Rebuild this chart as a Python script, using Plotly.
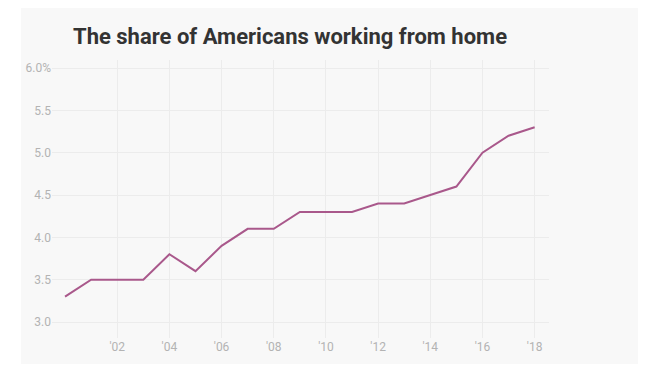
import plotly.graph_objects as go

years = list(range(2000, 2019))
share = [3.3, 3.5, 3.5, 3.5, 3.8, 3.6, 3.9, 4.1, 4.1, 4.3, 4.3, 4.3, 4.4, 4.4, 4.5, 4.6, 5.0, 5.2, 5.3]
x_ticks = [2002, 2004, 2006, 2008, 2010, 2012, 2014, 2016, 2018]
x_labels = ["'02", "'04", "'06", "'08", "'10", "'12", "'14", "'16", "'18"]
y_ticks = [3.0, 3.5, 4.0, 4.5, 5.0, 5.5, 6.0]
y_labels = ["3.0", "3.5", "4.0", "4.5", "5.0", "5.5", "6.0%"]

title = "The share of Americans working from home"

# page has an 8px body margin, so figure coords = page coords - 8
W, H = 638, 361
L, R, T, B = 44, 97, 52, 31
pw, ph = W - L - R, H - T - B

fig = go.Figure()
fig.add_trace(go.Scatter(x=years, y=share, mode="lines",
                         line=dict(color="#a9588b", width=2),
                         hoverinfo="skip", showlegend=False))

# panel background
px0, px1, py0, py1 = 13, 636, 0, 356
fig.add_shape(type="rect", xref="paper", yref="paper",
              x0=(px0 - L) / pw, x1=(px1 - L) / pw,
              y0=(H - B - py1) / ph, y1=(H - B - py0) / ph,
              fillcolor="#f8f8f8", line=dict(width=0), layer="below")

tick_font = dict(family="Roboto", size=12, color="#b3b3b3")

fig.update_layout(
    width=W, height=H,
    margin=dict(l=L, r=R, t=T, b=B),
    paper_bgcolor="white", plot_bgcolor="rgba(0,0,0,0)",
    title=dict(text="<b>" + title + "</b>", x=65 / W, xanchor="left",
               y=1 - 28 / H, yanchor="middle",
               font=dict(family="Roboto", size=22, color="#333333")),
    xaxis=dict(range=[1999.5, 2018.55], tickvals=x_ticks, ticktext=x_labels,
               showgrid=True, gridcolor="#ececec", gridwidth=1,
               zeroline=False, showline=False, ticks="",
               tickfont=tick_font),
    yaxis=dict(range=[2.811, 6.0945], tickvals=y_ticks, ticktext=y_labels,
               showgrid=True, gridcolor="#ececec", gridwidth=1,
               zeroline=False, showline=False, ticks="",
               tickfont=tick_font),
)

fig.write_html("out.html")
